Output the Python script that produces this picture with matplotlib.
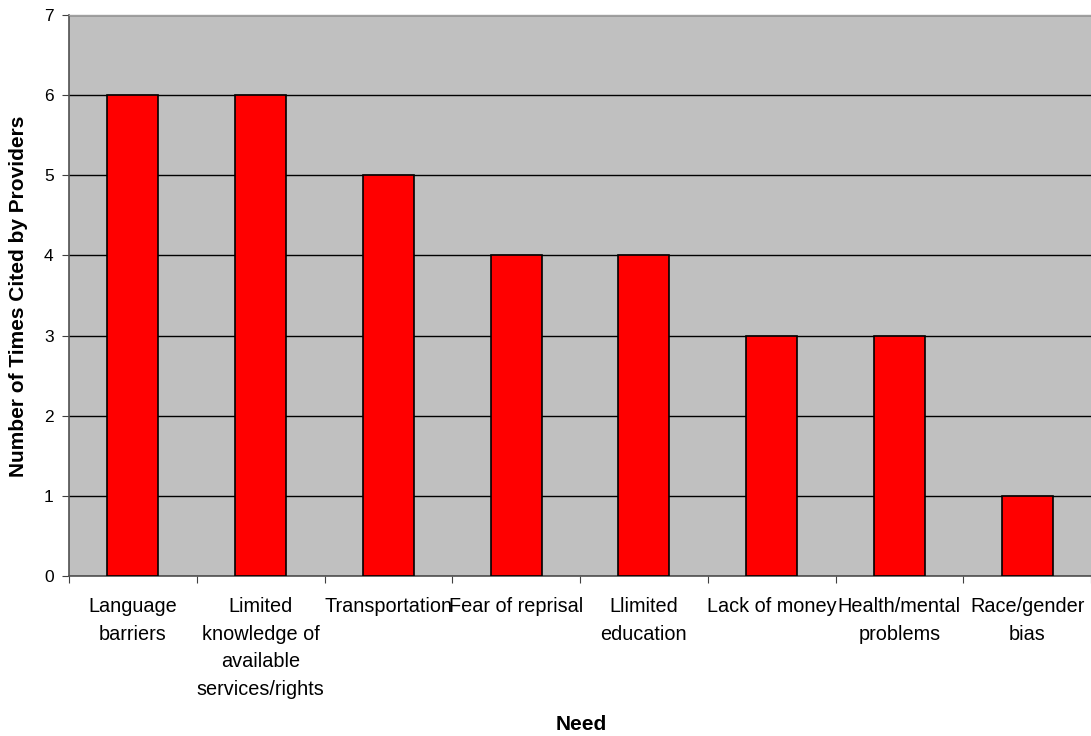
import matplotlib
matplotlib.use("Agg")
import matplotlib.pyplot as plt

categories = [
    "Language\nbarriers",
    "Limited\nknowledge of\navailable\nservices/rights",
    "Transportation",
    "Fear of reprisal",
    "Llimited\neducation",
    "Lack of money",
    "Health/mental\nproblems",
    "Race/gender\nbias",
]
counts = [6, 6, 5, 4, 4, 3, 3, 1]
y_ticks = [0, 1, 2, 3, 4, 5, 6, 7]

plt.rcParams["font.family"] = ["Liberation Sans", "DejaVu Sans"]

fig = plt.figure(figsize=(10.91, 7.36), dpi=100)
ax = fig.add_axes([69 / 1091, 1 - 576 / 736, 1 - 69 / 1091, (576 - 15) / 736])
ax.set_facecolor("#c0c0c0")

x = list(range(len(categories)))
ax.bar(x, counts, width=0.4, color="#ff0000", edgecolor="black", linewidth=1.2, zorder=3)

ax.set_xlim(-0.5, len(categories) - 0.5)
ax.set_ylim(0, 7)
ax.set_yticks(y_ticks)
ax.set_yticklabels([str(v) for v in y_ticks], fontsize=12.5)
ax.yaxis.grid(True, color="black", linewidth=1.0, zorder=1)
ax.set_axisbelow(True)

# category labels centred in each slot, ticks on slot boundaries
ax.set_xticks([i - 0.5 for i in range(len(categories) + 1)])
ax.set_xticklabels([])
ax.set_xticks(x, minor=True)
ax.set_xticklabels(categories, minor=True, fontsize=14.3, linespacing=1.58, va="top")
ax.tick_params(axis="x", which="minor", length=0, pad=15)
ax.tick_params(axis="x", which="major", length=5, color="#404040")
ax.tick_params(axis="y", length=5, color="#404040", pad=6)

ax.spines["right"].set_visible(False)
ax.spines["top"].set_color("#a0a0a0")
ax.spines["top"].set_linewidth(1.0)
for side in ("left", "bottom"):
    ax.spines[side].set_color("#505050")
    ax.spines[side].set_linewidth(1.2)

fig.text(18.5 / 1091, 1 - 296 / 736, "Number of Times Cited by Providers", fontsize=15,
         fontweight="bold", rotation=90, ha="center", va="center")
fig.text(581 / 1091, 1 - 725 / 736, "Need", fontsize=15, fontweight="bold",
         ha="center", va="center")

fig.savefig("out.png", dpi=100)
